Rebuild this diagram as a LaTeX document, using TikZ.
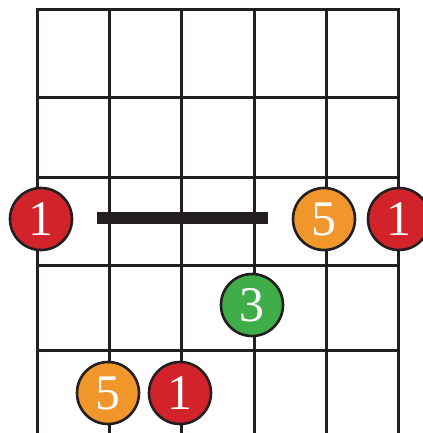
\documentclass[tikz,border=0pt]{standalone}
\usepackage{fontspec}
\setmainfont{Liberation Serif}
\definecolor{cred}{HTML}{D2232A}
\definecolor{corange}{HTML}{F0962A}
\definecolor{cgreen}{HTML}{3FAE49}
\definecolor{cline}{HTML}{231F20}
\begin{document}
\begin{tikzpicture}[x=1bp,y=-1bp,
  gridline/.style={draw=cline,line width=3bp},
  dot/.style={circle,draw=cline,line width=2.6bp,minimum size=62bp,inner sep=0pt,
    text=white,font=\fontsize{50}{50}\selectfont},
  barre/.style={draw=cline,line width=12bp}]
\useasboundingbox (0,0) rectangle (422,433);
% strings
\foreach \x in {37,109,181,254,326,398}
  \draw[gridline] (\x,10) -- (\x,433);
% frets
\foreach \y in {10,98,178,265,350}
  \draw[gridline] (35.5,\y) -- (399.5,\y);
% barre
\coordinate (b1) at (97,218);
\coordinate (b2) at (268,218);
\draw[barre] (b1) -- (b2);
% dots
\node[dot,fill=cred]    (r1) at (41,219)  {1};
\node[dot,fill=corange] (o1) at (324,219) {5};
\node[dot,fill=cred]    (r2) at (399,219) {1};
\node[dot,fill=cgreen]  (g1) at (252,305) {3};
\node[dot,fill=corange] (o2) at (108,393) {5};
\node[dot,fill=cred]    (r3) at (180,393) {1};
\end{tikzpicture}
\end{document}
